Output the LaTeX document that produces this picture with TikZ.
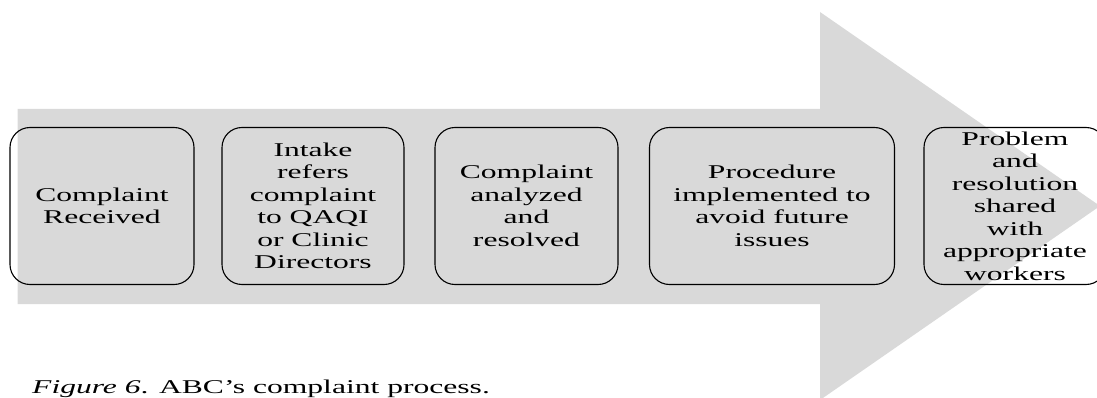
\documentclass[tikz,border=0pt]{standalone}
\usepackage{fontspec}
\setmainfont[FakeStretch=1.62]{Liberation Serif}
\definecolor{arrowgray}{HTML}{D9D9D9}
\begin{document}
\begin{tikzpicture}[x=1pt,y=-1pt,
  stepbox/.style={draw=black, line width=1.1pt, rounded corners=20pt,
    minimum height=157pt, inner sep=0pt, align=center,
    font=\fontsize{19.5pt}{22.5pt}\selectfont},
]
\useasboundingbox (0,0) rectangle (1097,398);
\clip (0,0) rectangle (1097,398);
% big arrow
\fill[arrowgray] (17.5,109) -- (820,109) -- (820,12) -- (1100,206) -- (820,400)
  -- (820,304) -- (17.5,304) -- cycle;
% steps
\node[stepbox, minimum width=184pt] (b1) at (102,206) {Complaint\\Received};
\node[stepbox, minimum width=182pt] (b2) at (313,206) {Intake\\refers\\complaint\\to QAQI\\or Clinic\\Directors};
\node[stepbox, minimum width=183pt] (b3) at (526.5,206) {Complaint\\analyzed\\and\\resolved};
\node[stepbox, minimum width=245pt] (b4) at (772,206) {Procedure\\implemented to\\avoid future\\issues};
\node[stepbox, minimum width=182pt] (b5) at (1015,206) {Problem\\and\\resolution\\shared\\with\\appropriate\\workers};
% caption
\node[anchor=base west, inner sep=0pt, font=\fontsize{19.5pt}{22.5pt}\selectfont] (cap) at (32,393)
  {\textit{Figure 6}. ABC’s complaint process.};
\end{tikzpicture}
\end{document}
